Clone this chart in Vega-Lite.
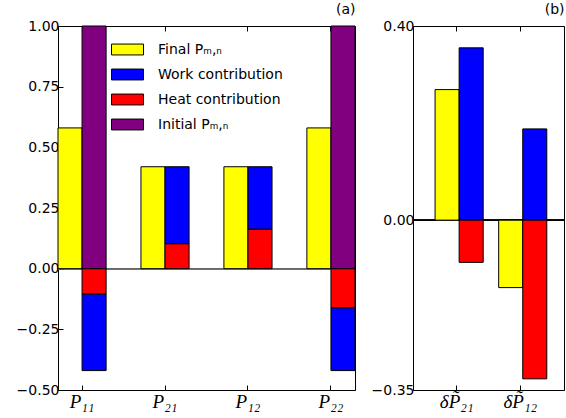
{
  "$schema": "https://vega.github.io/schema/vega-lite/v6.json",
  "padding": {"left": 15, "top": 2, "right": 2, "bottom": 2},
  "config": {
    "view": {"stroke": "black", "strokeWidth": 1},
    "font": "DejaVu Sans",
    "axis": {"grid": false, "domain": false, "tickColor": "black", "labelColor": "black", "labelFontSize": 14, "labelFont": "DejaVu Sans", "tickSize": -5, "labelPadding": 4, "title": null},
    "title": {"anchor": "end", "fontSize": 14, "fontWeight": "normal", "font": "DejaVu Sans", "offset": 2, "color": "black"},
    "legend": {
      "symbolType": "M-1,-0.34H1V0.34H-1Z",
      "symbolSize": 1024,
      "symbolStrokeColor": "black",
      "symbolStrokeWidth": 1,
      "symbolOpacity": 1,
      "labelFontSize": 14,
      "labelFont": "DejaVu Sans",
      "labelColor": "black",
      "labelOffset": 14,
      "rowPadding": 1,
      "padding": 0
    }
  },
  "datasets": {
    "a": [
      {"cat": "P₁₁", "pos": "L", "series": "Final Pₘ,ₙ", "value": 0.58, "ord": 0},
      {"cat": "P₁₁", "pos": "R", "series": "Heat contribution", "value": -0.105, "ord": 1},
      {"cat": "P₁₁", "pos": "R", "series": "Work contribution", "value": -0.315, "ord": 2},
      {"cat": "P₁₁", "pos": "R", "series": "Initial Pₘ,ₙ", "value": 1.0, "ord": 3},
      {"cat": "P₂₁", "pos": "L", "series": "Final Pₘ,ₙ", "value": 0.42, "ord": 0},
      {"cat": "P₂₁", "pos": "R", "series": "Heat contribution", "value": 0.103, "ord": 1},
      {"cat": "P₂₁", "pos": "R", "series": "Work contribution", "value": 0.317, "ord": 2},
      {"cat": "P₁₂", "pos": "L", "series": "Final Pₘ,ₙ", "value": 0.42, "ord": 0},
      {"cat": "P₁₂", "pos": "R", "series": "Heat contribution", "value": 0.163, "ord": 1},
      {"cat": "P₁₂", "pos": "R", "series": "Work contribution", "value": 0.257, "ord": 2},
      {"cat": "P₂₂", "pos": "L", "series": "Final Pₘ,ₙ", "value": 0.58, "ord": 0},
      {"cat": "P₂₂", "pos": "R", "series": "Heat contribution", "value": -0.162, "ord": 1},
      {"cat": "P₂₂", "pos": "R", "series": "Work contribution", "value": -0.258, "ord": 2},
      {"cat": "P₂₂", "pos": "R", "series": "Initial Pₘ,ₙ", "value": 1.0, "ord": 3}
    ],
    "b": [
      {"cat": "δP̃₂₁", "pos": "L", "series": "Final Pₘ,ₙ", "value": 0.269, "ord": 0},
      {"cat": "δP̃₂₁", "pos": "R", "series": "Work contribution", "value": 0.355, "ord": 2},
      {"cat": "δP̃₂₁", "pos": "R", "series": "Heat contribution", "value": -0.087, "ord": 1},
      {"cat": "δP̃₁₂", "pos": "L", "series": "Final Pₘ,ₙ", "value": -0.139, "ord": 0},
      {"cat": "δP̃₁₂", "pos": "R", "series": "Work contribution", "value": 0.188, "ord": 2},
      {"cat": "δP̃₁₂", "pos": "R", "series": "Heat contribution", "value": -0.327, "ord": 1}
    ]
  },
  "spacing": 14,
  "resolve": {"scale": {"color": "independent"}},
  "hconcat": [
    {
      "title": "(a)",
      "width": 297,
      "height": 364,
      "data": {"name": "a"},
      "resolve": {"axis": {"x": "independent", "y": "independent"}},
      "layer": [
        {
          "mark": {"type": "rule", "color": "#666666", "strokeWidth": 1},
          "encoding": {"y": {"datum": 0, "type": "quantitative", "scale": {"domain": [-0.5, 1.0], "nice": false, "zero": false}, "axis": {"orient": "left", "values": [-0.5, -0.25, 0, 0.25, 0.5, 0.75, 1.0], "format": ".2f"}}}
        },
        {
          "mark": {"type": "bar", "stroke": "black", "strokeWidth": 1, "opacity": 1},
          "encoding": {
            "x": {"field": "cat", "type": "nominal", "sort": ["P₁₁", "P₂₁", "P₁₂", "P₂₂"], "scale": {"paddingInner": 0.42, "paddingOuter": 0}, "axis": {"orient": "bottom", "labelAngle": 0, "labelFont": "Liberation Serif", "labelFontStyle": "italic", "labelFontSize": 19, "labelPadding": 7}},
            "xOffset": {"field": "pos", "type": "nominal", "sort": ["L", "R"], "scale": {"paddingInner": 0, "paddingOuter": 0}},
            "y": {"field": "value", "type": "quantitative", "stack": "zero", "scale": {"domain": [-0.5, 1.0], "nice": false, "zero": false}, "axis": null},
            "color": {"field": "series", "type": "nominal", "scale": {"domain": ["Final Pₘ,ₙ", "Work contribution", "Heat contribution", "Initial Pₘ,ₙ"], "range": ["#ffff00", "#0000ff", "#ff0000", "#800080"]}, "legend": {"orient": "none", "legendX": 53, "legendY": 7, "title": null}},
            "order": {"field": "ord", "type": "quantitative"}
          }
        },
        {
          "mark": {"type": "point", "opacity": 0},
          "encoding": {
            "x": {"field": "cat", "type": "nominal", "sort": ["P₁₁", "P₂₁", "P₁₂", "P₂₂"], "axis": {"orient": "top", "labels": false}},
            "y": {"field": "value", "type": "quantitative", "scale": {"domain": [-0.5, 1.0], "nice": false, "zero": false}, "axis": {"orient": "right", "labels": false, "values": [-0.5, -0.25, 0, 0.25, 0.5, 0.75, 1.0]}}
          }
        }
      ]
    },
    {
      "title": "(b)",
      "width": 151,
      "height": 364,
      "data": {"name": "b"},
      "resolve": {"axis": {"x": "independent", "y": "independent"}},
      "layer": [
        {
          "mark": {"type": "rule", "color": "black", "strokeWidth": 1},
          "encoding": {"y": {"datum": 0, "type": "quantitative", "scale": {"domain": [-0.35, 0.4], "nice": false, "zero": false}, "axis": {"orient": "left", "values": [-0.35, 0, 0.4], "format": ".2f"}}}
        },
        {
          "mark": {"type": "bar", "stroke": "black", "strokeWidth": 1, "opacity": 1},
          "encoding": {
            "x": {"field": "cat", "type": "nominal", "sort": ["δP̃₂₁", "δP̃₁₂"], "scale": {"paddingInner": 0.32, "paddingOuter": 0.347}, "axis": {"orient": "bottom", "labelAngle": 0, "labelFont": "Liberation Serif", "labelFontStyle": "italic", "labelFontSize": 19, "labelPadding": 7}},
            "xOffset": {"field": "pos", "type": "nominal", "sort": ["L", "R"], "scale": {"paddingInner": 0, "paddingOuter": 0}},
            "y": {"field": "value", "type": "quantitative", "stack": "zero", "scale": {"domain": [-0.35, 0.4], "nice": false, "zero": false}, "axis": null},
            "color": {"field": "series", "type": "nominal", "scale": {"domain": ["Final Pₘ,ₙ", "Work contribution", "Heat contribution", "Initial Pₘ,ₙ"], "range": ["#ffff00", "#0000ff", "#ff0000", "#800080"]}, "legend": null},
            "order": {"field": "ord", "type": "quantitative"}
          }
        },
        {
          "mark": {"type": "point", "opacity": 0},
          "encoding": {
            "x": {"field": "cat", "type": "nominal", "sort": ["δP̃₂₁", "δP̃₁₂"], "axis": {"orient": "top", "labels": false}},
            "y": {"field": "value", "type": "quantitative", "scale": {"domain": [-0.35, 0.4], "nice": false, "zero": false}, "axis": {"orient": "right", "labels": false, "values": [-0.35, 0, 0.4]}}
          }
        }
      ]
    }
  ]
}
